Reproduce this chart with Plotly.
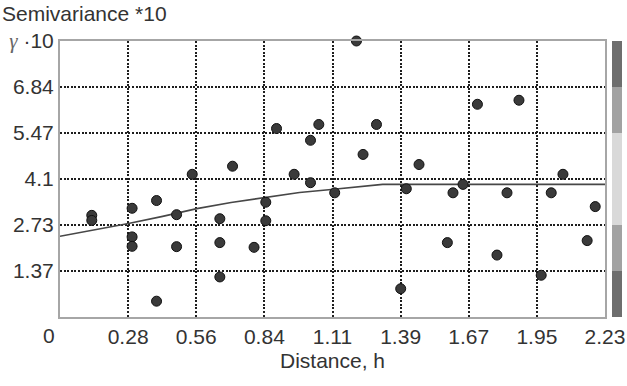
import plotly.graph_objects as go

# Empirical semivariogram (values scaled by 10)
dist = [0.130, 0.130, 0.295, 0.295, 0.295, 0.395, 0.395, 0.477, 0.477, 0.541,
        0.654, 0.654, 0.654, 0.706, 0.794, 0.842, 0.842, 0.886, 0.958, 1.025,
        1.025, 1.059, 1.124, 1.213, 1.240, 1.295, 1.394, 1.417, 1.469, 1.585,
        1.608, 1.649, 1.708, 1.788, 1.829, 1.878, 1.969, 2.010, 2.058, 2.157,
        2.190]
semi = [3.02, 2.87, 3.23, 2.38, 2.10, 3.46, 0.47, 3.04, 2.09, 4.24,
        2.92, 2.21, 1.19, 4.48, 2.07, 3.41, 2.86, 5.60, 4.24, 5.25,
        3.99, 5.72, 3.69, 8.20, 4.83, 5.72, 0.84, 3.81, 4.53, 2.21,
        3.69, 3.94, 6.32, 1.84, 3.69, 6.44, 1.24, 3.69, 4.24, 2.27,
        3.28]

# Fitted model curve
model_h = [0, 0.14, 0.28, 0.42, 0.56, 0.70, 0.84, 0.98, 1.11, 1.25, 1.32, 2.23]
model_g = [2.40, 2.58, 2.78, 2.99, 3.22, 3.40, 3.56, 3.70, 3.79, 3.89, 3.94, 3.94]

# Axis ticks
x_max = 2.23
y_max = 8.2
x_ticks = [x_max * i / 8 for i in range(1, 9)]
x_labels = ["0.28", "0.56", "0.84", "1.11", "1.39", "1.67", "1.95", "2.23"]
y_ticks = [y_max * i / 6 for i in range(1, 7)]
y_labels = ["1.37", "2.73", "4.1", "5.47", "6.84",
            "<span style='font-family:Liberation Serif;color:#666'><i>γ</i></span> ·10"]

# Shading bands of the side scale (thickness in y units) and their greys
band_sizes = [y_max / 6, y_max / 6, 2 * y_max / 6, y_max / 6, y_max / 6]
band_colors = ["#6e6e6e", "#a2a2a2", "#d9d9d9", "#a2a2a2", "#6e6e6e"]

W, H = 627, 386
ml, mr, mt, mb = 60, 5, 41, 69
pw = W - ml - mr
ph = H - mt - mb
main_right = (605 - ml) / pw
bar_left = (612 - ml) / pw

font_main = dict(family="Liberation Sans, Arial, sans-serif", size=21, color="#333333")

fig = go.Figure()

fig.add_trace(go.Scatter(
    x=model_h, y=model_g, mode="lines",
    line=dict(color="#474747", width=1.6),
    hoverinfo="skip", showlegend=False,
))

fig.add_trace(go.Scatter(
    x=dist, y=semi, mode="markers",
    marker=dict(size=10, color="#3a3a3a", line=dict(color="#111111", width=1)),
    cliponaxis=False, showlegend=False,
))

for size, col in zip(band_sizes, band_colors):
    fig.add_trace(go.Bar(
        x=[0], y=[size], xaxis="x2", yaxis="y",
        marker=dict(color=col, line=dict(width=0)),
        width=1, showlegend=False, hoverinfo="skip",
    ))

fig.update_layout(
    width=W, height=H,
    margin=dict(l=ml, r=mr, t=mt, b=mb, pad=0, autoexpand=False),
    paper_bgcolor="white", plot_bgcolor="white",
    barmode="stack", bargap=0,
    font=font_main,
    xaxis=dict(
        domain=[0, main_right], range=[0, x_max], automargin=False,
        tickvals=x_ticks, ticktext=x_labels, ticks="",
        showgrid=True, gridcolor="#1e1e1e", gridwidth=1.6, griddash="2px,1.6px",
        showline=True, linecolor="#a6a6a6", linewidth=2, mirror=True,
        zeroline=False, tickfont=font_main,
        title=dict(text="Distance, h", font=font_main, standoff=6),
    ),
    yaxis=dict(
        range=[0, y_max], automargin=False,
        tickvals=y_ticks, ticktext=y_labels, ticks="",
        showgrid=True, gridcolor="#1e1e1e", gridwidth=1.6, griddash="2px,1.6px",
        showline=True, linecolor="#a6a6a6", linewidth=2, mirror=True,
        zeroline=False, tickfont=font_main,
    ),
    xaxis2=dict(
        domain=[bar_left, 1.0], range=[-0.5, 0.5], automargin=False,
        showgrid=False, showticklabels=False, zeroline=False, showline=False,
        anchor="y",
    ),
    annotations=[
        dict(text="Semivariance *10", xref="paper", yref="paper",
             x=-ml / pw, y=(ph + mt - 13) / ph, xanchor="left", yanchor="middle",
             showarrow=False, font=font_main),
        dict(text="0", xref="paper", yref="paper",
             x=(49 - ml) / pw, y=(ph + mt - 335) / ph,
             xanchor="center", yanchor="middle", showarrow=False, font=font_main),
    ],
)

fig.write_html("out.html")
